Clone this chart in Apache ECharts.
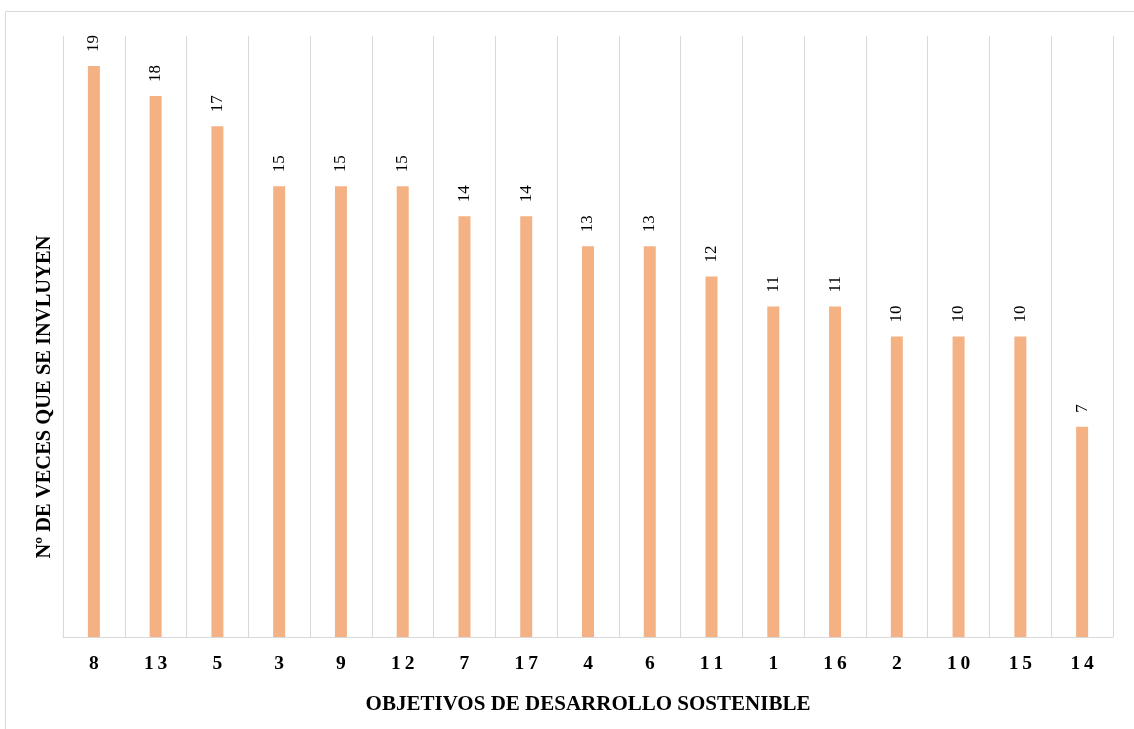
<!DOCTYPE html>
<html>
<head>
<meta charset="utf-8">
<script src="https://cdn.jsdelivr.net/npm/echarts@6/dist/echarts.min.js"></script>
<style>
  html, body { margin: 0; padding: 0; background: #ffffff; }
  #chart { width: 1134px; height: 729px; }
</style>
</head>
<body>
<div id="chart"></div>
<script>
// Sustainable Development Goals and how many times each one is included
const categories = ['8', '13', '5', '3', '9', '12', '7', '17', '4', '6', '11', '1', '16', '2', '10', '15', '14'];
const counts = [19, 18, 17, 15, 15, 15, 14, 14, 13, 13, 12, 11, 11, 10, 10, 10, 7];
const xTitle = 'OBJETIVOS DE DESARROLLO SOSTENIBLE';
const yTitle = 'Nº DE VECES QUE SE INVLUYEN';

const serif = '"Liberation Serif", "Times New Roman", serif';
const chart = echarts.init(document.getElementById('chart'), null, { renderer: 'canvas' });

chart.setOption({
  animation: false,
  backgroundColor: '#ffffff',
  grid: { left: 63, right: 21, top: 36, bottom: 92, containLabel: false },
  graphic: [
    {
      type: 'rect',
      shape: { x: 5.5, y: 11.5, width: 1160, height: 740 },
      style: { fill: 'none', stroke: '#d9d9d9', lineWidth: 1 },
      silent: true
    },
    {
      type: 'text',
      x: 45,
      y: 397,
      rotation: Math.PI / 2,
      style: {
        text: yTitle,
        font: 'bold 20.5px ' + serif,
        fill: '#000000',
        align: 'center',
        verticalAlign: 'middle'
      }
    }
  ],
  xAxis: {
    type: 'category',
    data: categories,
    boundaryGap: true,
    axisLine: { show: true, lineStyle: { color: '#d9d9d9', width: 1 } },
    axisTick: { show: false },
    splitLine: { show: true, lineStyle: { color: '#d9d9d9', width: 1 } },
    axisLabel: {
      margin: 17,
      color: '#000000',
      fontFamily: serif,
      fontWeight: 'bold',
      fontSize: 19.5,
      // digits of two-figure goals are set slightly apart
      formatter: v => v.split('').join('\u2009')
    },
    name: xTitle,
    nameLocation: 'middle',
    nameGap: 57,
    nameTextStyle: { color: '#000000', fontFamily: serif, fontWeight: 'bold', fontSize: 21 }
  },
  yAxis: {
    type: 'value',
    min: 0,
    max: 20,
    interval: 2,
    show: false,
    splitLine: { show: false }
  },
  series: [{
    type: 'bar',
    data: counts,
    barWidth: 12,
    itemStyle: { color: '#F4B183' },
    label: {
      show: true,
      position: 'top',
      rotate: 90,
      align: 'left',
      verticalAlign: 'middle',
      distance: 14,
      color: '#000000',
      fontFamily: serif,
      fontSize: 17
    }
  }]
});
</script>
</body>
</html>
